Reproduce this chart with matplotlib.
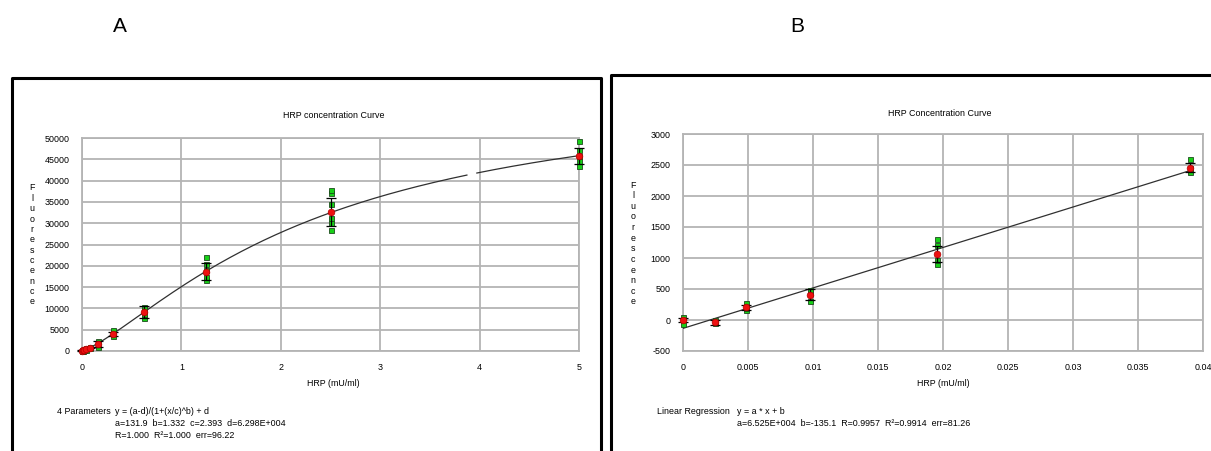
import numpy as np
import matplotlib
matplotlib.use("Agg")
import matplotlib.pyplot as plt

W, H = 1211, 451
plt.rcParams['font.family'] = ['Liberation Sans', 'DejaVu Sans']

# ---- panel A data (4 parameter fit) ----
a_x = [0, 0.0098, 0.0195, 0.039, 0.078, 0.156, 0.3125, 0.625, 1.25, 2.5, 5]
a_reps = [
    [50, 150],
    [100, 200],
    [200, 350],
    [350, 650],
    [600, 1000],
    [1000, 2300],
    [3500, 4400, 4900],
    [7800, 8800, 9700, 10400],
    [16700, 17400, 19100, 20400, 22000],
    [28400, 30100, 31200, 34400, 37100, 37800],
    [43400, 44500, 45800, 47100, 49200],
]
a_mean = [100, 150, 250, 500, 800, 1600, 4000, 9200, 18600, 32700, 45800]
a_err = [60, 60, 80, 150, 200, 650, 500, 1450, 2000, 3300, 1850]
a_par = dict(a=131.9, b=1.332, c=2.393, d=6.298e4)
a_gap = (3.88, 3.97)

# ---- panel B data (linear regression) ----
b_x = [0, 0.00244, 0.00488, 0.00977, 0.0195, 0.039]
b_reps = [
    [-70, 54],
    [-54, 0],
    [160, 190, 280],
    [305, 430, 482],
    [911, 965, 1217, 1313],
    [2385, 2450, 2600],
]
b_mean = [0, -38, 204, 407, 1061, 2455]
b_err = [40, 40, 40, 90, 130, 75]
b_par = dict(a=6.525e4, b=-135.1)

GRID = '#b4b4b4'
FS = 6.4


def fx(x):
    return x / W


def fy(y):
    return 1 - y / H


fig = plt.figure(figsize=(W / 100, H / 100), dpi=100)


def panel(rect, xs, reps, mean, err, fitx, fity, xlim, ylim, xticks, yticks, xtl, ytl):
    l, t, r, b = rect
    ax = fig.add_axes([fx(l), fy(b), fx(r - l), (b - t) / H])
    ax.set_xlim(*xlim)
    ax.set_ylim(*ylim)
    ax.set_xticks(xticks)
    ax.set_xticklabels(xtl, fontsize=FS)
    ax.set_yticks(yticks)
    ax.set_yticklabels(ytl, fontsize=FS)
    ax.tick_params(length=0, pad=9)
    ax.grid(True, color=GRID, lw=1.3)
    for s in ax.spines.values():
        s.set_color(GRID)
        s.set_linewidth(1.3)
    ax.plot(fitx, fity, color='#303030', lw=0.9, zorder=3)
    for x, ys in zip(xs, reps):
        ax.plot([x] * len(ys), ys, 's', ms=3.6, mfc='#18d018', mec='#1c4a1c',
                mew=0.6, zorder=4, clip_on=False)
    ax.errorbar(xs, mean, yerr=err, fmt='none', ecolor='black', elinewidth=0.9,
                capsize=3.5, capthick=0.9, zorder=5, clip_on=False)
    ax.plot(xs, mean, 'o', ms=4.8, mfc='#ee1010', mec='#b00000', mew=0.5,
            zorder=6, clip_on=False)
    return ax


# fit curves from the chart's own parameters
xa = np.linspace(0, 5, 400)
ya = (a_par['a'] - a_par['d']) / (1 + (xa / a_par['c']) ** a_par['b']) + a_par['d']
ya[(xa > a_gap[0]) & (xa < a_gap[1])] = np.nan
xb = np.array([0, b_x[-1]])
yb = b_par['a'] * xb + b_par['b']

panel((82, 138, 579, 351), a_x, a_reps, a_mean, a_err, xa, ya,
      (0, 5), (0, 50000), range(6), range(0, 50001, 5000),
      [str(i) for i in range(6)], [str(v) for v in range(0, 50001, 5000)])
panel((683, 134, 1203, 351), b_x, b_reps, b_mean, b_err, xb, yb,
      (0, 0.04), (-500, 3000), np.arange(0, 0.0401, 0.005), range(-500, 3001, 500),
      ['0', '0.005', '0.01', '0.015', '0.02', '0.025', '0.03', '0.035', '0.04'],
      [str(v) for v in range(-500, 3001, 500)])

# panel frames
fig.add_artist(plt.Line2D([fx(12), fx(12), fx(601), fx(601)],
                          [0, fy(78), fy(78), 0], color='black', lw=2.2))
fig.add_artist(plt.Line2D([fx(611), fx(611), 1],
                          [0, fy(75), fy(75)], color='black', lw=2.2))

# panel letters
fig.text(fx(120), fy(27), 'A', fontsize=15, ha='center', va='center')
fig.text(fx(797), fy(27), 'B', fontsize=15, ha='center', va='center')

# titles and axis labels
fig.text(fx(334), fy(116), 'HRP concentration Curve', fontsize=FS, ha='center', va='center')
fig.text(fx(940), fy(113), 'HRP Concentration Curve', fontsize=FS, ha='center', va='center')
fig.text(fx(333), fy(383), 'HRP (mU/ml)', fontsize=FS, ha='center', va='center')
fig.text(fx(943), fy(383), 'HRP (mU/ml)', fontsize=FS, ha='center', va='center')

word = 'Fluorescence'
for x0, y0, y1 in [(32, 188, 302), (633, 185, 302)]:
    for i, ch in enumerate(word):
        fig.text(fx(x0), fy(y0 + i * (y1 - y0) / (len(word) - 1)), ch,
                 fontsize=FS, ha='center', va='center')

# fit results
fig.text(fx(57), fy(412), '4 Parameters', fontsize=FS, va='center')
fig.text(fx(115), fy(412), 'y = (a-d)/(1+(x/c)^b) + d', fontsize=FS, va='center')
fig.text(fx(115), fy(423), 'a=131.9  b=1.332  c=2.393  d=6.298E+004', fontsize=FS, va='center')
fig.text(fx(115), fy(435), 'R=1.000  R²=1.000  err=96.22', fontsize=FS, va='center')
fig.text(fx(657), fy(412), 'Linear Regression', fontsize=FS, va='center')
fig.text(fx(737), fy(412), 'y = a * x + b', fontsize=FS, va='center')
fig.text(fx(737), fy(423), 'a=6.525E+004  b=-135.1  R=0.9957  R²=0.9914  err=81.26',
         fontsize=FS, va='center')

fig.savefig('out.png', dpi=100)
